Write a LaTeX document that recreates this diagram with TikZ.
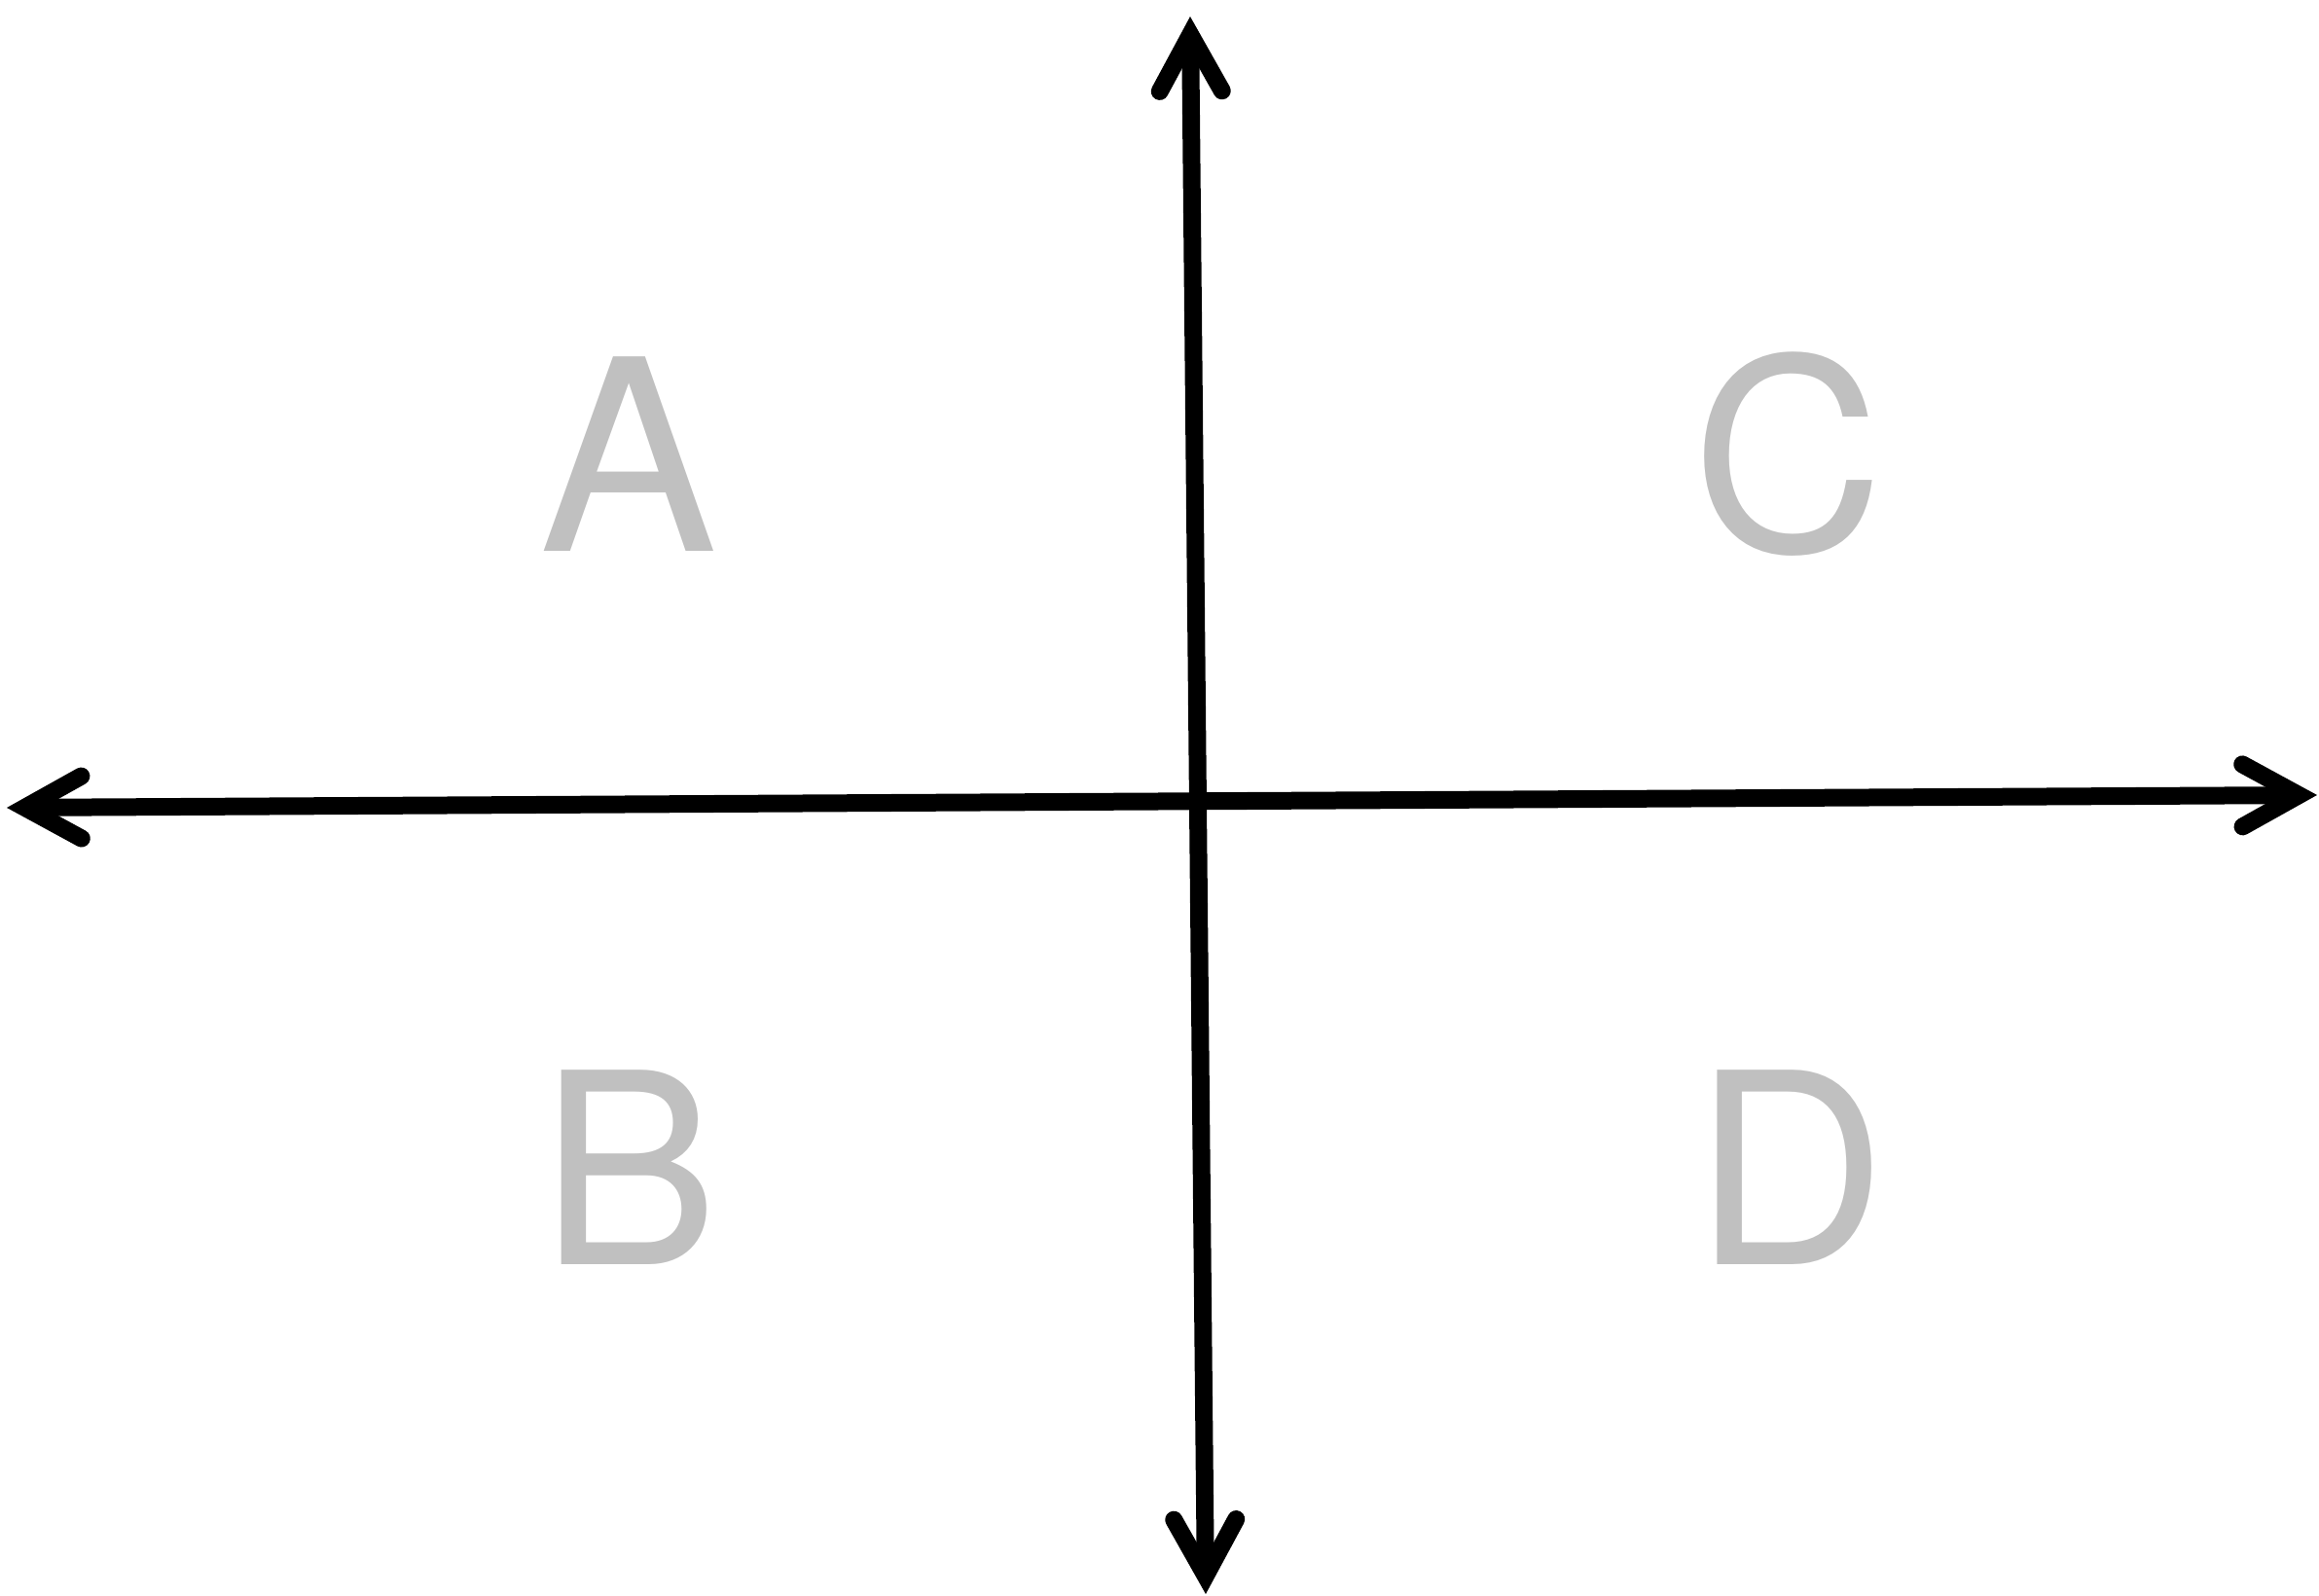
\documentclass[tikz,border=0pt]{standalone}
\usepackage{fontspec}
\setmainfont{TeX Gyre Heros}
\usetikzlibrary{arrows.meta}
\definecolor{Ink}{HTML}{000000}
\definecolor{Quiet}{HTML}{C0C0C0}
\tikzset{
  barb/.tip={Straight Barb[length=0.58cm,width=0.64cm,line cap=round,line join=miter]},
  axis/.style={draw=Ink,line width=0.18cm,line cap=round,barb-barb},
  lbl/.style={text=Quiet,font=\fontsize{78}{78}\selectfont,inner sep=0pt,anchor=center},
}
\begin{document}
\begin{tikzpicture}
\path[use as bounding box] (0,0) rectangle (23.83,16.40);
% -ends of the two axes-
\coordinate (top) at (12.23,16.23);
\coordinate (bot) at (12.39,0.02);
\coordinate (lft) at (0.07,8.10);
\coordinate (rgt) at (23.81,8.23);
\draw[axis] (bot) -- (top);
\draw[axis] (lft) -- (rgt);
% -quadrants-
\node[lbl] (A) at (6.46,11.73) {A};
\node[lbl] (C) at (18.37,11.73) {C};
\node[lbl] (B) at (6.47,4.40) {B};
\node[lbl] (D) at (18.39,4.40) {D};
\end{tikzpicture}
\end{document}
